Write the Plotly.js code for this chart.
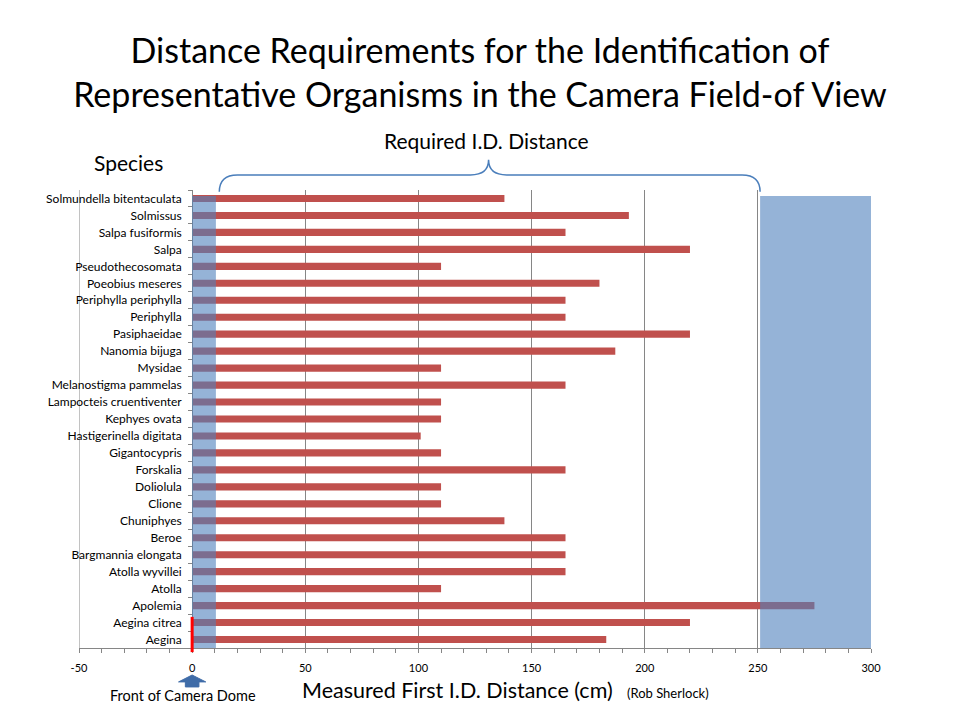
<!DOCTYPE html>
<html>
<head>
<meta charset="utf-8">
<script src="https://cdn.plot.ly/plotly-3.0.1.min.js"></script>
<style>
  body { margin: 0; background: #fff; }
  #chart { width: 960px; height: 720px; }
</style>
</head>
<body>
<div id="chart"></div>
<script>
'use strict';

// species, top to bottom as in the slide
const species = [
	'Solmundella bitentaculata', 'Solmissus', 'Salpa fusiformis', 'Salpa',
	'Pseudothecosomata', 'Poeobius meseres', 'Periphylla periphylla', 'Periphylla',
	'Pasiphaeidae', 'Nanomia bijuga', 'Mysidae', 'Melanostigma pammelas',
	'Lampocteis cruentiventer', 'Kephyes ovata', 'Hastigerinella digitata', 'Gigantocypris',
	'Forskalia', 'Doliolula', 'Clione', 'Chuniphyes', 'Beroe', 'Bargmannia elongata',
	'Atolla wyvillei', 'Atolla', 'Apolemia', 'Aegina citrea', 'Aegina'
];

// measured first I.D. distance (cm)
const idDistance = [
	138, 193, 165, 220,
	110, 180, 165, 165,
	220, 187, 110, 165,
	110, 110, 101, 110,
	165, 110, 110, 138, 165, 165,
	165, 110, 275, 220, 183
];

const xTicks = [-50, 0, 50, 100, 150, 200, 250, 300];
const xTickText = ['-50', '0', '50', '100', '150', '200', '250', '300'];

// shaded zones (cm)
const domeZone = [0, 10.5];
const farZone = [251, 300];
const braceSpan = [12, 131, 251];

const fontFam = 'Lato, "Open Sans", sans-serif';
const gridCol = '#868686';

function drawChart()
{
	const trace = {
		type: 'bar',
		orientation: 'h',
		x: idDistance,
		y: species,
		marker: { color: '#C0504D' },
		hoverinfo: 'x+y'
	};

	const b = braceSpan;
	const bracePath = 'M ' + b[0] + ',0.996 Q ' + b[0] + ',1.033 ' + (b[0] + 8) + ',1.033' +
		' L ' + (b[1] - 8) + ',1.033 Q ' + b[1] + ',1.033 ' + b[1] + ',1.066' +
		' Q ' + b[1] + ',1.033 ' + (b[1] + 8) + ',1.033' +
		' L ' + (b[2] - 8) + ',1.033 Q ' + b[2] + ',1.033 ' + b[2] + ',0.996';

	const arrowPath = 'M 0,-0.059 L 6,-0.074 L 3,-0.074 L 3,-0.085 L -3,-0.085 L -3,-0.074 L -6,-0.074 Z';

	const layout = {
		width: 960,
		height: 720,
		margin: { l: 79, r: 89, t: 190, b: 72 },
		paper_bgcolor: '#ffffff',
		plot_bgcolor: '#ffffff',
		showlegend: false,
		bargap: 0.58,
		font: { family: fontFam, color: '#000000' },
		title: {
			text: 'Distance Requirements for the Identification of<br>Representative Organisms in the Camera Field-of View',
			font: { family: fontFam, size: 34, color: '#000000' },
			x: 0.5,
			xanchor: 'center',
			xref: 'container',
			y: 0.9125,
			yref: 'container',
			yanchor: 'middle'
		},
		xaxis: {
			range: [-50, 300],
			tickvals: xTicks,
			ticktext: xTickText,
			showgrid: true,
			gridcolor: gridCol,
			gridwidth: 1,
			zeroline: false,
			showline: true,
			linecolor: gridCol,
			ticks: 'outside',
			ticklen: 4,
			tickcolor: gridCol,
			ticklabelstandoff: 6,
			tickfont: { family: fontFam, size: 11, color: '#000000' },
			minor: { dtick: 10, tick0: 0, ticks: 'outside', ticklen: 4, tickcolor: gridCol, showgrid: false },
			fixedrange: true
		},
		yaxis: {
			type: 'category',
			autorange: 'reversed',
			anchor: 'free',
			position: 50 / 350,
			side: 'left',
			showgrid: false,
			showline: true,
			linecolor: gridCol,
			ticks: 'outside',
			tickson: 'boundaries',
			ticklen: 4,
			tickcolor: gridCol,
			ticklabelstandoff: 8,
			tickfont: { family: fontFam, size: 12, color: '#000000' },
			fixedrange: true
		},
		shapes: [
			{ type: 'line', layer: 'below', xref: 'x', yref: 'paper', x0: -50, x1: -50, y0: 0, y1: 1,
				line: { color: gridCol, width: 1 } },
			{ type: 'rect', layer: 'above', xref: 'x', yref: 'paper', x0: domeZone[0], x1: domeZone[1], y0: 0, y1: 0.987,
				fillcolor: 'rgba(79,129,189,0.6)', line: { width: 0 } },
			{ type: 'rect', layer: 'above', xref: 'x', yref: 'paper', x0: farZone[0], x1: farZone[1], y0: 0, y1: 0.987,
				fillcolor: 'rgba(79,129,189,0.6)', line: { width: 0 } },
			{ type: 'line', layer: 'above', xref: 'x', yref: 'paper', x0: 0, x1: 0, y0: 0.068, y1: -0.009,
				line: { color: '#ff0000', width: 3 } },
			{ type: 'path', layer: 'above', xref: 'x', yref: 'paper', path: bracePath,
				line: { color: '#4a7ebb', width: 1.5 } },
			{ type: 'path', layer: 'above', xref: 'x', yref: 'paper', path: arrowPath,
				fillcolor: '#3f6ca8', line: { color: '#3f6ca8', width: 1 } }
		],
		annotations: [
			{ text: 'Required I.D. Distance', xref: 'x', yref: 'paper', x: 130, y: 1.109, yanchor: 'middle',
				showarrow: false, font: { family: fontFam, size: 21 } },
			{ text: 'Species', xref: 'x', yref: 'paper', x: -28, y: 1.059, yanchor: 'middle',
				showarrow: false, font: { family: fontFam, size: 21 } },
			{ text: 'Measured First I.D. Distance (cm)', xref: 'x', yref: 'paper', x: 47.5, y: -0.092,
				xanchor: 'left', yanchor: 'middle', showarrow: false, font: { family: fontFam, size: 21.5 } },
			{ text: '(Rob Sherlock)', xref: 'x', yref: 'paper', x: 191.5, y: -0.098,
				xanchor: 'left', yanchor: 'middle', showarrow: false, font: { family: fontFam, size: 13 } },
			{ text: 'Front of Camera Dome', xref: 'x', yref: 'paper', x: -4, y: -0.103, yanchor: 'middle',
				showarrow: false, font: { family: fontFam, size: 14.5 } }
		]
	};

	Plotly.newPlot('chart', [trace], layout, { displayModeBar: false, staticPlot: true });
}

drawChart();
</script>
</body>
</html>
